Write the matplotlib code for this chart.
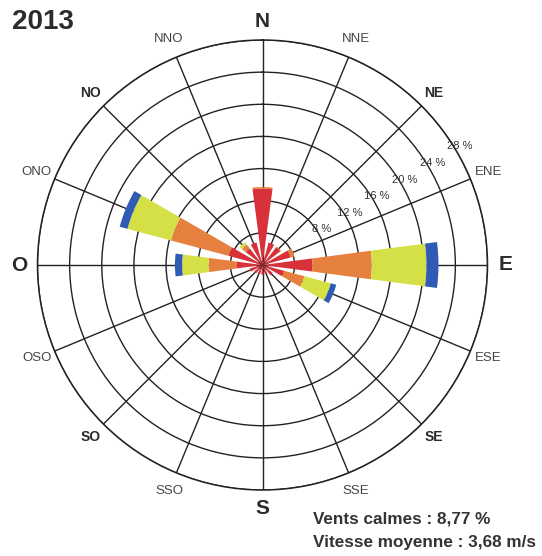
import numpy as np
import matplotlib
matplotlib.use("Agg")
import matplotlib.pyplot as plt

plt.rcParams['font.family'] = ['Liberation Sans', 'DejaVu Sans']

# ---- data ----
directions = ["N", "NNE", "NE", "ENE", "E", "ESE", "SE", "SSE",
              "S", "SSO", "SO", "OSO", "O", "ONO", "NO", "NNO"]
# frequency (%) per speed class, stacked
class1 = [9.5, 2.9, 2.8, 3.6, 6.2, 2.8, 1.6, 1.2, 1.2, 1.2, 1.3, 1.6, 3.2, 4.4, 2.6, 2.9]
class2 = [0.2, 0.0, 0.1, 0.5, 7.4, 2.6, 0.0, 0.0, 0.0, 0.0, 0.0, 0.1, 3.5, 7.4, 0.6, 0.0]
class3 = [0.0, 0.0, 0.0, 0.0, 6.8, 3.4, 0.0, 0.0, 0.0, 0.0, 0.0, 0.0, 3.3, 5.6, 0.4, 0.0]
class4 = [0.0, 0.0, 0.0, 0.0, 1.5, 0.7, 0.0, 0.0, 0.0, 0.0, 0.0, 0.0, 0.9, 1.0, 0.0, 0.0]
class_colors = ["#d8313a", "#e5803f", "#d5e046", "#2f5bb5"]
ring_values = [4, 8, 12, 16, 20, 24, 28]
ring_labels = ["", "8 %", "12 %", "16 %", "20 %", "24 %", "28 %"]
bold_dirs = {"NE", "SE", "SO", "NO"}
main_dirs = {"N", "E", "S", "O"}
title = "2013"
calm_text = "Vents calmes : 8,77 %"
speed_text = "Vitesse moyenne : 3,68 m/s"

# ---- figure ----
W, H = 542, 556
fig = plt.figure(figsize=(W / 100, H / 100), dpi=100)
cx, cy, R = 262.5, 265.0, 225.0
ax = fig.add_axes([(cx - R) / W, (H - cy - R) / H, 2 * R / W, 2 * R / H],
                  projection='polar')
ax.set_theta_zero_location('N')
ax.set_theta_direction(-1)
ax.set_ylim(0, 28)

n = len(directions)
theta = np.deg2rad(np.arange(n) * 360.0 / n)
width = np.deg2rad(15.0)

bottom = np.zeros(n)
for vals, col in zip([class1, class2, class3, class4], class_colors):
    vals = np.array(vals)
    ax.bar(theta, vals, width=width, bottom=bottom, color=col,
           edgecolor='none', linewidth=0, zorder=3)
    bottom += vals

# grid
ax.set_rgrids(ring_values, labels=[""] * len(ring_values))
ax.set_thetagrids(np.arange(n) * 360.0 / n, labels=[""] * n)
ax.grid(True, color='#222222', linewidth=1.0)
ax.set_axisbelow(True)
ax.spines['polar'].set_color('#222222')
ax.spines['polar'].set_linewidth(1.1)
ax.tick_params(pad=0)

# ring labels
lab_bearing = np.deg2rad(59.0)
for rv, lab in zip(ring_values, ring_labels):
    if lab:
        ax.text(lab_bearing, rv + 0.65, lab, ha='center', va='center',
                fontsize=8, color='#333333', zorder=5)

# direction labels
for d, t in zip(directions, theta):
    if d in main_dirs:
        ax.text(t, 30.3, d, ha='center', va='center', fontsize=15,
                fontweight='bold', color='#2b2b2b', clip_on=False)
    elif d in bold_dirs:
        ax.text(t, 30.2, d, ha='center', va='center', fontsize=10,
                fontweight='bold', color='#2b2b2b', clip_on=False)
    else:
        ax.text(t, 30.4, d, ha='center', va='center', fontsize=9.5,
                color='#444444', clip_on=False)

fig.text(43 / W, 1 - 22 / H, title, ha='center', va='center',
         fontsize=20, fontweight='bold', color='#2b2b2b')
fig.text(313 / W, 1 - 519 / H, calm_text, ha='left', va='center',
         fontsize=12.3, fontweight='bold', color='#333333')
fig.text(313 / W, 1 - 543 / H, speed_text, ha='left', va='center',
         fontsize=12.3, fontweight='bold', color='#333333')

fig.savefig("out.png", dpi=100, facecolor='white')
